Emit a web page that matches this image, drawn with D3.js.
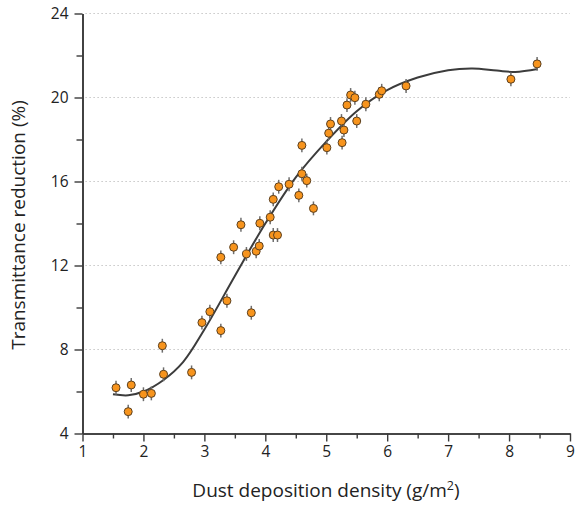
<!DOCTYPE html>
<html>
<head>
<meta charset="utf-8">
<script src="https://cdn.jsdelivr.net/npm/d3@7"></script>
<style>
    html, body { margin: 0; padding: 0; background: #fff; }
    svg { display: block; font-family: 'Open Sans', sans-serif; }
</style>
</head>
<body>
<svg id="chart" width="580" height="505"></svg>
<script>
// Measured points (dust density g/m2, transmittance reduction %)
const dustDensity = [
    1.55, 1.80, 1.75, 2.00, 2.13, 2.31, 2.33, 2.79, 2.96, 3.09,
    3.27, 3.27, 3.37, 3.48, 3.60, 3.69, 3.77, 3.85, 3.90, 3.91,
    4.08, 4.13, 4.20, 4.13, 4.22, 4.39, 4.55, 4.60, 4.60, 4.68,
    4.79, 5.01, 5.04, 5.07, 5.26, 5.25, 5.29, 5.34, 5.40, 5.47,
    5.50, 5.65, 5.87, 5.91, 6.31, 8.03, 8.46
];
const reduction = [
    6.18, 6.31, 5.04, 5.87, 5.91, 8.18, 6.82, 6.91, 9.28, 9.80,
    12.39, 8.90, 10.32, 12.87, 13.94, 12.55, 9.75, 12.68, 12.93, 14.01,
    14.30, 13.45, 13.45, 15.15, 15.75, 15.87, 15.34, 17.72, 16.37, 16.04,
    14.72, 17.61, 18.30, 18.74, 17.85, 18.88, 18.45, 19.64, 20.12, 19.99,
    18.88, 19.68, 20.15, 20.32, 20.55, 20.87, 21.60
];
const errorBar = 0.33;

// Fitted trend line
const fitX = [1.50, 1.75, 2.00, 2.33, 2.65, 3.00, 3.50, 4.00, 4.50, 5.00, 5.50, 6.00, 6.50, 7.00, 7.40, 7.80, 8.10, 8.47];
const fitY = [5.87, 5.82, 6.00, 6.55, 7.40, 8.95, 11.50, 14.00, 16.20, 17.90, 19.35, 20.35, 20.95, 21.30, 21.38, 21.28, 21.22, 21.36];

const xTicks = [1, 2, 3, 4, 5, 6, 7, 8, 9];
const xMinorTicks = [1.5, 2.5, 3.5, 4.5, 5.5, 6.5, 7.5, 8.5];
const yTicks = [4, 8, 12, 16, 20, 24];
const yMinorTicks = [6, 10, 14, 18, 22];
const gridLines = [8, 12, 16, 20, 24];

const scatterChart = (function () {

    let svg, xScale, yScale;

    return { init };

    function init() {
        svg = d3.select('#chart');

        xScale = d3.scaleLinear().domain([1, 9]).range([82.5, 570]);
        yScale = d3.scaleLinear().domain([4, 24]).range([433.5, 13.5]);

        drawGrid();
        drawAxes();
        drawFit();
        drawPoints();
        drawTitles();
    }

    function drawGrid() {
        svg.append('g').selectAll('line').data(gridLines).enter().append('line')
            .attr('x1', xScale(1) + 3)
            .attr('x2', xScale(9))
            .attr('y1', (d) => yScale(d))
            .attr('y2', (d) => yScale(d))
            .attr('stroke', '#b8b8b8')
            .attr('stroke-width', 1)
            .attr('stroke-dasharray', '1.2,2.8');
    }

    function drawAxes() {
        let xAxis = svg.append('g')
            .attr('transform', `translate(0,${yScale(4)})`)
            .call(d3.axisBottom(xScale).tickValues(xTicks).tickSize(8).tickSizeOuter(0).tickPadding(4));
        let xMinor = svg.append('g')
            .attr('transform', `translate(0,${yScale(4)})`)
            .call(d3.axisBottom(xScale).tickValues(xMinorTicks).tickSize(5).tickSizeOuter(0).tickFormat(''));

        let yAxis = svg.append('g')
            .attr('transform', `translate(${xScale(1)},0)`)
            .call(d3.axisLeft(yScale).tickValues(yTicks).tickSize(8).tickSizeOuter(0).tickPadding(6));
        let yMinor = svg.append('g')
            .attr('transform', `translate(${xScale(1)},0)`)
            .call(d3.axisLeft(yScale).tickValues(yMinorTicks).tickSize(6).tickSizeOuter(0).tickFormat(''));

        [xAxis, xMinor, yAxis, yMinor].forEach((g) => {
            g.select('.domain').attr('stroke', '#3a3a3a').attr('stroke-width', 1.6);
            g.selectAll('.tick line').attr('stroke', '#3a3a3a').attr('stroke-width', 1.4);
            g.selectAll('.tick text').attr('fill', '#222').style('font-size', '15.5px')
                .style('font-family', "'Open Sans', sans-serif");
        });
    }

    function drawFit() {
        let line = d3.line()
            .x((d) => xScale(d[0]))
            .y((d) => yScale(d[1]))
            .curve(d3.curveCatmullRom.alpha(0.5));

        svg.append('path')
            .datum(d3.zip(fitX, fitY))
            .attr('d', line)
            .attr('fill', 'none')
            .attr('stroke', '#3c3c3c')
            .attr('stroke-width', 2);
    }

    function drawPoints() {
        let points = d3.zip(dustDensity, reduction);

        svg.append('g').selectAll('line').data(points).enter().append('line')
            .attr('x1', (d) => xScale(d[0]))
            .attr('x2', (d) => xScale(d[0]))
            .attr('y1', (d) => yScale(d[1] - errorBar))
            .attr('y2', (d) => yScale(d[1] + errorBar))
            .attr('stroke', '#6e6e6e')
            .attr('stroke-width', 1.5);

        svg.append('g').selectAll('circle').data(points).enter().append('circle')
            .attr('cx', (d) => xScale(d[0]))
            .attr('cy', (d) => yScale(d[1]))
            .attr('r', 4)
            .attr('fill', '#f7941d')
            .attr('stroke', '#5b4020')
            .attr('stroke-width', 1);
    }

    function drawTitles() {
        let xTitle = svg.append('text')
            .attr('x', 326)
            .attr('y', 497)
            .attr('text-anchor', 'middle')
            .attr('fill', '#222')
            .style('font-size', '19px')
            .text('Dust deposition density (g/m');
        xTitle.append('tspan').attr('dy', -7).style('font-size', '12.5px').text('2');
        xTitle.append('tspan').attr('dy', 7).text(')');

        svg.append('text')
            .attr('transform', 'translate(25,225) rotate(-90)')
            .attr('text-anchor', 'middle')
            .attr('fill', '#222')
            .style('font-size', '19px')
            .text('Transmittance reduction (%)');
    }

})();

scatterChart.init();
</script>
</body>
</html>
